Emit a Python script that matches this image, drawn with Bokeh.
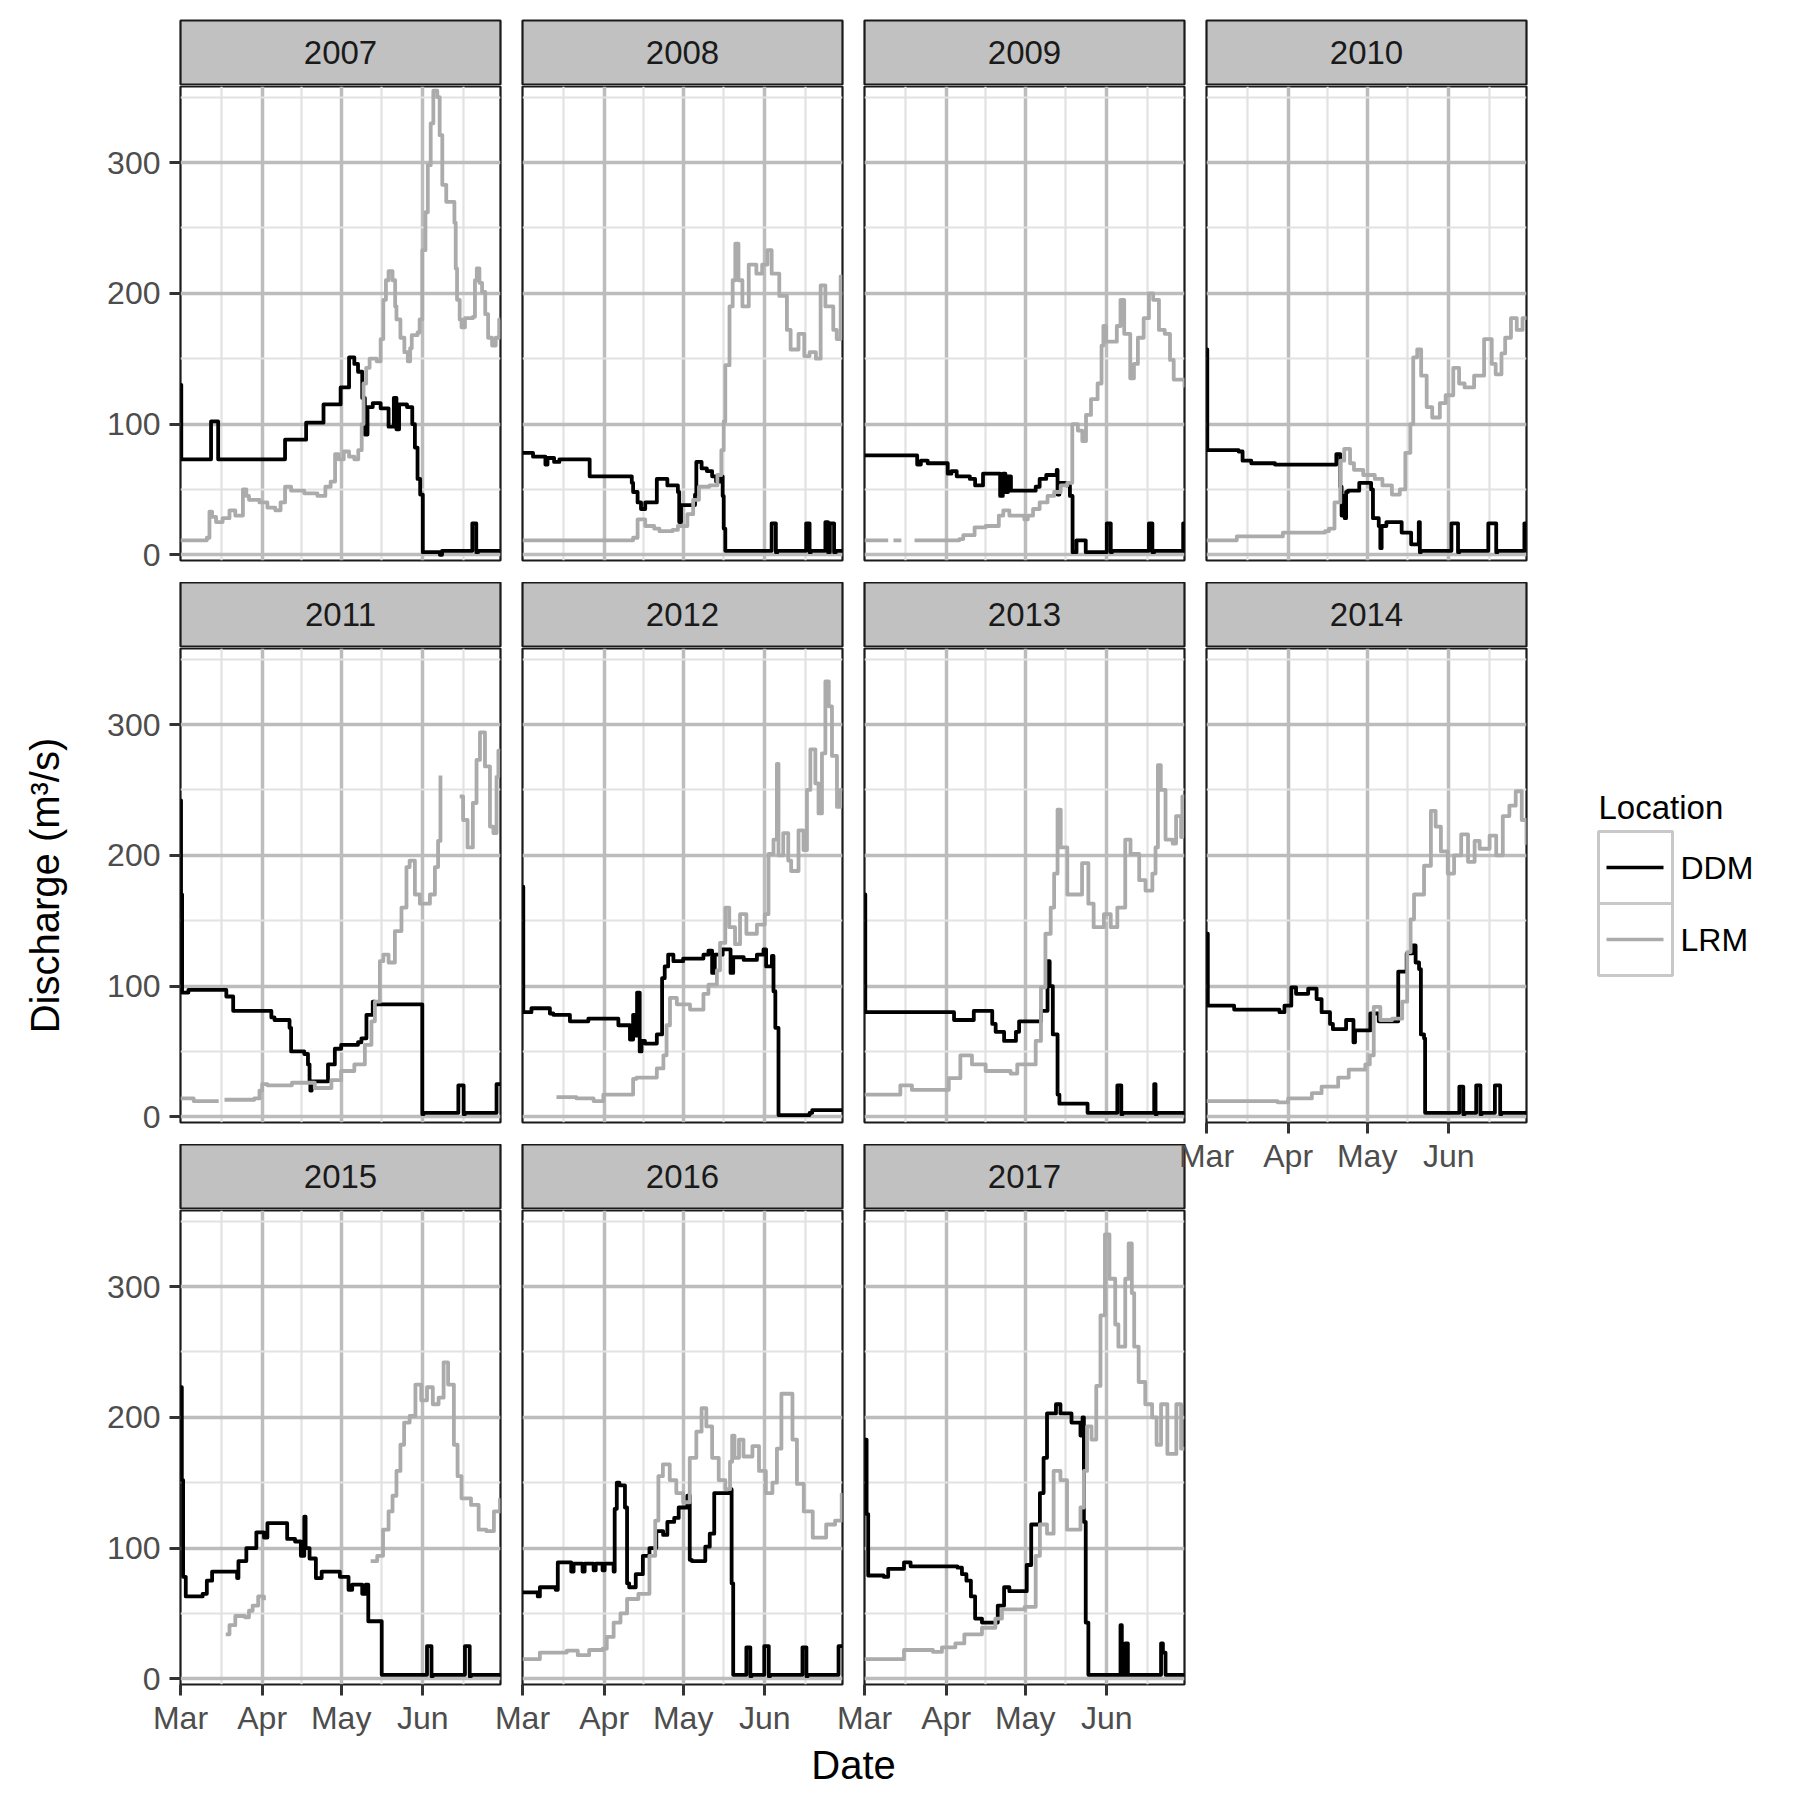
from bokeh.plotting import figure
from bokeh.layouts import row, column
from bokeh.models import Range1d, FixedTicker, ColumnDataSource
from bokeh.embed import file_html
from bokeh.resources import INLINE
from bokeh.core.properties import value

# ---------------- data (day = days since 1 March, q = discharge m3/s) ----------------
YEARS = [2007, 2008, 2009, 2010, 2011, 2012, 2013, 2014, 2015, 2016, 2017]
LOCATIONS = ["DDM", "LRM"]
MONTH_TICKS = [0, 31, 61, 92]
MONTH_LABELS = ["Mar", "Apr", "May", "Jun"]
MONTH_MINOR = [15.5, 46, 76.5, 107.5]
Q_TICKS = [0, 100, 200, 300]
Q_MINOR = [50, 150, 250, 350]

DDM_2007 = [(0,130),(0.3,73),(11.6,102),(14.3,73),(39.7,88),(47.7,101),(54.3,115),(60.8,128),(64,151),(66,146),(67.4,140),(69,120),(70,92),(71,113),(73,116),(76,112),(79,98),(81,120),(82,96),(83,115),(86,113),(88,100),(89,82),(90,58),(91,46),(92,2),(98.5,0),(99.3,3),(110.8,24),(112.3,2),(113,3),(121.5,3)]
LRM_2007 = [(0,11),(10,13),(11,33),(12,29),(13.5,25),(16,28),(18.6,34),(20.8,30),(23.7,50),(25,45),(26,42),(30,40),(33,36),(36,34),(38,40),(39.7,52),(42,49),(47,47),(52,45),(55,52),(57,56),(58.7,77),(60,73),(62,79),(64,75),(66,73),(67.5,80),(68.8,100),(69.5,131),(70.5,143),(71.8,150),(74.5,148),(76,165),(77,195),(78,210),(79,217),(80.5,210),(81.5,190),(82,180),(83.5,166),(85,155),(86.3,148),(87.2,158),(87.8,168),(90,170),(90.8,180),(91.8,233),(93,262),(93.9,298),(95,330),(96,355),(97.5,350),(98.4,321),(99.4,283),(100.9,270),(103,270),(104,254),(104.5,219),(105,195),(106,180),(106.7,174),(108,181),(111,182),(111.8,210),(112.5,219),(113.5,208),(114.5,201),(115.7,184),(116.8,166),(118.3,160),(119.7,166),(121,180),(121.5,180)]

DDM_2008 = [(0,78),(4,75),(8.7,69),(9.5,74),(12,71),(14,73),(25.5,60),(41.5,55),(42,48),(43.7,40),(45,35),(46.6,40),(51,58),(55,53),(59,48),(59.5,25),(60.2,38),(65.5,46),(66,71),(68,66),(70,64),(72,60),(73.5,56),(75,60),(76,45),(76.4,20),(77,3),(94.6,24),(96.2,2),(96.8,3),(107.7,24),(109,2),(109.5,3),(115,25),(116,2),(116.7,24),(118.3,2),(119,3),(121.5,3)]
LRM_2008 = [(0,11),(42,13),(43.7,27),(46.6,22),(50,20),(52,18),(57,19),(59,22),(62.6,31),(64.8,42),(67,52),(71,53),(74,61),(75.5,80),(76.4,102),(77,145),(78.6,190),(79.8,210),(80.8,238),(82,210),(83.5,190),(85.9,222),(88.8,215),(91,222),(93,233),(94.6,215),(97.5,198),(100.4,172),(101.8,157),(104.8,169),(107,152),(109,155),(111.4,150),(113.2,206),(115,190),(118,172),(119.3,165),(120.8,213),(121.5,213)]

DDM_2009 = [(0,76),(20,69),(21.4,72),(24,70),(31.6,62),(33,64),(35,60),(40,58),(42,53),(45,62),(50.5,62),(51.5,45),(52.5,62),(53.5,48),(54.5,60),(55.6,49),(65,52),(66.5,58),(69,61),(73,65),(73.3,46),(74,55),(76.7,53),(78,45),(79,2),(80.5,11),(84,2),(92,24),(93.5,2),(94,3),(108,24),(109.3,2),(110,3),(121,24),(121.5,24)]
LRM_2009 = [(0,11),(9,11),None,(11,11),(14,11),None,(19,11),(36,12),(37.5,15),(41.8,21),(46,22),(51,30),(52.7,34),(55,30),(60.7,27),(62,30),(64,35),(66.5,40),(69.5,45),(72,48),(74.5,53),(77,55),(78.9,100),(81,95),(82.7,87),(84.1,107),(86,119),(88.5,131),(90,160),(90.7,175),(91.7,163),(94.3,163),(95.8,175),(97.2,195),(98.6,169),(100.9,135),(102.3,146),(103.8,166),(106,181),(108,200),(109.6,195),(111.8,172),(114,169),(116,149),(117.4,134),(119.8,134),(121.5,128)]

DDM_2010 = [(0,157),(0.3,80),(12.2,79),(13.7,72),(17,70),(26,69),(49.3,77),(50.8,52),(51.3,30),(52,45),(52.5,28),(53,48),(53.7,49),(58,55),(61.7,55),(62.5,50),(63.2,28),(65.4,22),(66,5),(66.5,22),(68.3,25),(73.4,25),(74.1,17),(76.3,17),(77.7,8),(80.6,25),(81,2),(81.4,3),(93,24),(95.5,2),(96,3),(107,24),(110,2),(110.5,3),(120.7,24),(121.5,24)]
LRM_2010 = [(0,11),(11.5,14),(23,14),(29,17),(45,18),(46.5,20),(48.6,40),(50.8,72),(52.3,81),(54.5,70),(56,65),(59.5,61),(63.9,58),(66.8,53),(70.4,46),(73.4,50),(75.5,78),(77.4,100),(78.5,151),(80,157),(81.5,137),(83.6,113),(85.7,105),(88.6,116),(90.8,122),(93.7,143),(95.9,131),(98,128),(101.6,137),(103.8,137),(105.4,165),(108.3,146),(109.8,138),(112,154),(113.4,166),(115.6,181),(117.8,172),(120,181),(121.5,180)]

DDM_2011 = [(0,242),(0.2,170),(0.6,95),(3,97),(17.4,92),(20,81),(34.5,76),(35.7,74),(41.4,68),(42,50),(47,48),(48.4,40),(49,27),(49.3,20),(49.8,27),(55,27),(56,40),(58.6,52),(61,55),(67.4,57),(68.7,60),(70.6,78),(73,88),(73.8,86),(91.5,86),(91.8,2),(92.3,3),(105.5,24),(107.5,2),(108,3),(120,25),(121.5,25)]
LRM_2011 = [(0,14),(5,12),(14.5,12),None,(16.7,13),(28,14),(30,20),(31,25),(33,24),(41,24),(42.3,26),(48,26),(51,22),(53.5,22),(57.3,28),(61,35),(66,40),(70,55),(72.5,73),(73.8,88),(75.7,119),(77,124),(79,118),(81.4,142),(83.9,160),(85.8,191),(87,196),(89,170),(90.9,163),(94.7,170),(96.6,191),(97.8,211),(98.7,261),None,(106,245),(107.3,227),(109,206),(111,240),(112.4,273),(113.7,294),(115.6,268),(117.5,222),(118.8,217),(120,260),(120.7,280),(121.5,280)]

DDM_2012 = [(0,176),(0.3,80),(3.4,83),(10.4,79),(11.7,78),(18,73),(25,75),(35.7,75),(36.4,70),(40.8,59),(42,78),(42.5,62),(43.5,95),(44.5,50),(45.2,58),(46.5,56),(51,63),(53,106),(54,115),(55.3,124),(57.3,119),(61,121),(68.7,124),(70.6,127),(72,110),(73,124),(76,128),(79,110),(80,122),(84,120),(89,124),(91.5,128),(92.5,115),(94.7,123),(95.3,96),(96,68),(97.2,1.3),(109,3),(110,5),(121.5,5)]
LRM_2012 = [(12.9,15),(20.5,14),(27,12),(30.7,17),(40.8,17),(42,29),(43.3,30),(48.4,30),(51,37),(53.5,47),(54.7,70),(56,91),(58.6,86),(63.6,82),(67.4,82),(68.7,94),(70.6,101),(72.5,101),(73.8,112),(75,133),(77,160),(78.5,145),(80.7,132),(82.6,155),(85,140),(89,147),(92,155),(93.4,201),(95.3,212),(96.6,270),(97.2,200),(99,217),(100.9,196),(102,188),(104.8,219),(106.7,204),(108,250),(109.3,281),(111.2,255),(112.4,232),(113.7,278),(115,333),(116.3,314),(117.5,276),(119.4,237),(120.7,250),(121.5,250)]

DDM_2013 = [(0,170),(0.3,80),(32,80),(34,74),(41,74),(41.5,81),(46.6,81),(48.5,71),(49.8,65),(52,65),(53,58),(56,58),(57.5,65),(58.7,73),(65,73),(67,81),(69.5,119),(70.3,100),(71.5,63),(73.3,17),(74,10),(84.6,10),(84.7,3),(96,24),(97.5,2),(98,3),(110,25),(110.5,2),(111,3),(121.5,3)]
LRM_2013 = [(0,17),(13,17),(13.6,24),(18,20.5),(29.4,20.5),(32,29.5),(36.4,47),(40.8,40),(46,35),(53.5,35),(55.5,33),(58,40),(62.5,40),(65,58),(67,99),(68.7,140),(70.7,160),(72,186),(73.3,235),(74.5,206),(77,170),(79,170),(82.6,194),(85,163),(87,145),(90.9,155),(93.5,145),(96,160),(99,212),(101,201),(104.3,181),(106.7,173),(109.3,186),(110.5,206),(111.4,269),(112.5,250),(114.3,212),(117,209),(118.3,230),(120.2,214),(120.7,245),(121.5,245)]

DDM_2014 = [(0,140),(0.5,85),(10.5,82),(27.7,80),(29.6,85),(32.2,99),(34,94),(36.4,94),(38.6,98),(40.5,98),(41.8,90),(43.7,80),(45,80),(46.9,71),(48,67),(51.3,67),(53,74),(55.8,57),(56.4,66),(61,66),(62.2,79),(64,79),(65.4,73),(71,73),(72.8,111),(74.3,111),(76,125),(78.2,131),(79.4,118),(80.7,113),(81.4,63),(82.6,60),(83,3),(96,23),(97.5,2),(98,3),(102.4,24),(104,2),(104.5,3),(109.5,24),(111.5,2),(112,3),(121.5,3)]
LRM_2014 = [(0,12),(20.7,12),(27,11),(31,14),(36,14),(40,18),(43.7,23),(47.5,23),(50,30),(54,36),(57.7,36),(60.3,40),(62,47),(63.5,84),(66,74),(70.5,75),(73,75),(74.3,88),(76.2,126),(77.5,151),(78.8,170),(81.4,170),(82.6,192),(85.2,234),(87,222),(89,203),(91.6,186),(94,200),(96.7,216),(99.3,195),(101.8,211),(103.7,205),(107.5,215),(110,200),(112.5,230),(115,238),(117.4,249),(119.7,227),(121.5,208)]

DDM_2015 = [(0,223),(0.5,152),(1,78),(2,63),(8.4,65),(10,75),(12,82),(14.3,82),(21.5,77),(22,90),(25,100),(28.8,112),(31.7,108),(33,119),(39.7,119),(40.5,107),(43.5,105),(45.7,94),(47,124),(47.5,100),(49,92),(51.4,77),(53.6,82),(59.4,82),(60.5,78),(63.8,68),(65.2,72),(69,65),(70.3,72),(71.3,44),(76.2,44),(76.4,3),(93.6,25),(95.3,2),(95.8,3),(108,25),(109.8,2),(110.3,3),(121.5,3)]
LRM_2015 = [(17.2,34),(18.6,41),(20.8,48),(24.5,47),(26,52),(27.4,56),(29.5,63),(31.7,60),None,(72.2,90),(74.7,94),(76.9,114),(79,128),(80.5,140),(82,159),(83.5,179),(84.9,196),(87,201),(89.2,225),(91.4,213),(93.6,223),(95.8,210),(98,215),(99.9,242),(101.6,225),(103.8,179),(105.2,155),(106.7,138),(110.3,133),(113.2,114),(116.1,113),(119,128),(121.3,138)]

DDM_2016 = [(0,66),(5.8,63),(6.6,70),(12.6,68),(13.4,89),(18.5,82),(19.4,88),(22.8,82),(23.6,88),(27,83),(27.8,88),(30.4,83),(31.2,88),(34.6,82),(35,130),(35.8,150),(36.8,148),(38.9,131),(39.7,73),(40.5,70),(43,80),(45.7,94),(48.2,100),(50.8,113),(53.4,110),(55,120),(57.6,123),(59.3,131),(62.6,140),(63.5,91),(64.3,90),(69.4,101),(71.1,111),(72.8,142),(78.8,143),(79.3,145),(79.4,73),(80,3),(85,24),(86.5,2),(87,3),(91.8,25),(93.5,2),(94,3),(106.3,24),(107.8,2),(108.3,3),(120,25),(121.5,25)]
LRM_2016 = [(0,15),(6.6,20),(12.6,20),(16.8,21.5),(21,18),(25.3,22),(30.4,23),(32,32),(34.6,43),(37.2,50),(39.7,61),(44,65),(48.2,94),(50.4,121),(51.6,155),(53.3,164),(55.9,152),(58.4,142),(61,135),(63.5,169),(66,189),(68,207),(69.8,193),(72,169),(74.5,152),(77,145),(78.8,166),(79.6,186),(80.5,169),(82.2,183),(83.9,170),(87.3,178),(89.8,159),(92.4,142),(94.9,150),(96.6,176),(98.3,218),(100.9,218),(102.5,183),(104.2,149),(106.8,128),(110.2,108),(112.8,108),(115.3,118),(118.7,121),(121.2,142)]

DDM_2017 = [(0,183),(0.8,126),(1.4,79),(7.3,78),(9,84),(13.2,84),(15,89),(17.5,86),(31,86),(35.3,85),(37,80),(38.7,75),(40.4,63),(42,46),(43.8,46),(44.6,43),(49,43),(50.6,56),(53,70),(55,67),(60,67),(61.6,87),(63.3,118),(66.6,142),(68,169),(69.3,203),(71.8,203),(72.7,210),(74.4,203),(78.6,196),(82,186),(82.8,200),(83.3,120),(84,43),(85,3),(97.2,41),(97.7,3),(99,27),(100,3),(112.6,27),(113.3,20),(114.3,3),(121.5,3)]
LRM_2017 = [(0,15),(13.2,15),(15,22),(21,22),(26,20.5),(29.4,24),(34.5,27),(37.9,34),(44.6,39),(49.7,46),(52.2,53),(60.8,55),(63.3,55),(65,94),(66.6,118),(69.3,111),(71.8,159),(74.4,152),(76.9,114),(80.3,114),(82,131),(83.3,159),(84.5,193),(86.2,183),(88,224),(89.6,278),(91.3,340),(93,306),(95.2,271),(96.4,254),(99,306),(100.3,333),(101.5,295),(102.4,254),(104.1,227),(106.6,210),(109.2,200),(110.9,179),(112.6,210),(115,172),(118.4,210),(120.2,176),(121.5,176)]

SERIES = {
    2007: (DDM_2007, LRM_2007), 2008: (DDM_2008, LRM_2008), 2009: (DDM_2009, LRM_2009),
    2010: (DDM_2010, LRM_2010), 2011: (DDM_2011, LRM_2011), 2012: (DDM_2012, LRM_2012),
    2013: (DDM_2013, LRM_2013), 2014: (DDM_2014, LRM_2014), 2015: (DDM_2015, LRM_2015),
    2016: (DDM_2016, LRM_2016), 2017: (DDM_2017, LRM_2017),
}

# ---------------- style / layout ----------------
FONT = "Liberation Sans"
LOC_COLORS = ["#000000", "#ABABAB"]
LINE_W = 3.8
FRAME_W, FRAME_H, STRIP_H = 320, 474, 64
LEFT_MARGIN = 180
RIGHT_PAD = 2
COL_BORDER = 50      # left border of columns 2..4 (overlaps previous column)
COL_SHIFT = 30       # negative margin so that the visible gap is 22 px
NCOL = 4
X_RANGE = (0, 121.5)
Y_RANGE = (-4.4, 358.2)
GRID_MAJOR = "#BCBCBC"
GRID_MINOR = "#E2E2E2"
BORDER = "#1A1A1A"


def segments(pairs):
    segs, cur = [], []
    for pt in pairs:
        if pt is None:
            if cur:
                segs.append(cur)
            cur = []
        else:
            cur.append(pt)
    if cur:
        segs.append(cur)
    return segs


def make_strip(year, col, r):
    s = figure(frame_width=FRAME_W, frame_height=STRIP_H,
               x_range=Range1d(0, 1), y_range=Range1d(0, 1),
               x_axis_location=None, y_axis_location=None,
               toolbar_location=None, output_backend="svg",
               min_border_left=LEFT_MARGIN if col == 0 else COL_BORDER,
               min_border_right=RIGHT_PAD, min_border_top=20 if r == 0 else 0,
               min_border_bottom=1,
               background_fill_color="#C1C1C1", border_fill_color=None,
               outline_line_color=BORDER, outline_line_width=2.2)
    s.grid.visible = False
    s.text(x=[0.5], y=[0.5], text=[str(year)], text_align="center",
           text_baseline="middle", text_font=value(FONT),
           text_font_size="33px", text_color="#1A1A1A")
    return s


def make_panel(idx, year):
    col, r = idx % NCOL, idx // NCOL
    has_x = idx + NCOL >= len(YEARS)
    has_y = col == 0
    p = figure(frame_width=FRAME_W, frame_height=FRAME_H,
               x_range=Range1d(*X_RANGE), y_range=Range1d(*Y_RANGE),
               x_axis_location="below" if has_x else None,
               y_axis_location="left" if has_y else None,
               toolbar_location=None, output_backend="svg",
               min_border_left=LEFT_MARGIN if col == 0 else COL_BORDER,
               min_border_right=RIGHT_PAD, min_border_top=1,
               min_border_bottom=55 if has_x else 22,
               background_fill_color="white", border_fill_color=None,
               outline_line_color=BORDER, outline_line_width=2.2)
    p.xgrid.ticker = FixedTicker(ticks=MONTH_TICKS, minor_ticks=MONTH_MINOR)
    p.ygrid.ticker = FixedTicker(ticks=Q_TICKS, minor_ticks=Q_MINOR)
    p.grid.grid_line_color = GRID_MAJOR
    p.grid.grid_line_width = 3.5
    p.grid.minor_grid_line_color = GRID_MINOR
    p.grid.minor_grid_line_width = 2.2

    for ax in list(p.xaxis) + list(p.yaxis):
        ax.axis_line_color = None
        ax.major_tick_in = 0
        ax.major_tick_out = 11
        ax.minor_tick_out = 0
        ax.minor_tick_in = 0
        ax.major_tick_line_color = "#333333"
        ax.major_tick_line_width = 3
        ax.major_label_text_font = FONT
        ax.major_label_text_font_size = "32px"
        ax.major_label_text_color = "#4D4D4D"
        ax.axis_label_text_font = FONT
        ax.axis_label_text_font_size = "40px"
        ax.axis_label_text_font_style = "normal"
        ax.axis_label_text_color = "#000000"
    p.xaxis.ticker = FixedTicker(ticks=MONTH_TICKS, minor_ticks=[])
    p.xaxis.major_label_overrides = dict(zip(MONTH_TICKS, MONTH_LABELS))
    p.xaxis.major_label_standoff = 4
    p.yaxis.ticker = FixedTicker(ticks=Q_TICKS, minor_ticks=[])
    p.yaxis.major_label_standoff = 9
    if has_y and r == 1:
        p.yaxis.axis_label = "Discharge (m\u00b3/s)"
        p.yaxis.axis_label_standoff = 37

    for series, color in zip(SERIES[year], LOC_COLORS):
        for seg in segments(series):
            src = ColumnDataSource(dict(day=[d for d, _ in seg], q=[v for _, v in seg]))
            p.step("day", "q", source=src, mode="after", line_color=color,
                   line_width=LINE_W, line_join="round")
    return p


columns = [[] for _ in range(NCOL)]
for i, yr in enumerate(YEARS):
    c, r = i % NCOL, i // NCOL
    columns[c].append(make_strip(yr, c, r))
    columns[c].append(make_panel(i, yr))

col_layouts = []
for c, kids in enumerate(columns):
    if c == 0:
        col_layouts.append(column(*kids, spacing=0))
    else:
        col_layouts.append(column(*kids, spacing=0, margin=(0, 0, 0, -COL_SHIFT)))

# ---------------- legend (separate panel at right) ----------------
LEG_W, LEG_H = 268, 1000
KEY_X, KEY_W, KEY_H = 70, 74, 72
KEY_TOP = 831
TITLE_MID = 807
leg = figure(frame_width=LEG_W, frame_height=LEG_H,
             x_range=Range1d(0, LEG_W), y_range=Range1d(LEG_H, 0),
             x_axis_location=None, y_axis_location=None,
             toolbar_location=None, output_backend="svg",
             min_border_left=0, min_border_right=0, min_border_top=0, min_border_bottom=0,
             outline_line_color=None, background_fill_color=None, border_fill_color=None)
leg.grid.visible = False
tops = [KEY_TOP + k * KEY_H for k in range(len(LOCATIONS))]
mids = [t + KEY_H / 2 for t in tops]
leg.quad(left=[KEY_X] * 2, right=[KEY_X + KEY_W] * 2, top=tops,
         bottom=[t + KEY_H for t in tops], fill_color="white",
         line_color="#C8C8C8", line_width=3)
leg.segment(x0=[KEY_X + 8] * 2, x1=[KEY_X + KEY_W - 9] * 2, y0=mids, y1=mids,
            line_color=LOC_COLORS, line_width=3.5)
leg.text(x=[KEY_X + KEY_W + 8] * 2, y=mids, text=LOCATIONS, text_align="left",
         text_baseline="middle", text_font=value(FONT), text_font_size="32px",
         text_color="#000000")
leg.text(x=[KEY_X], y=[TITLE_MID], text=["Location"], text_align="left",
         text_baseline="middle", text_font=value(FONT), text_font_size="33px",
         text_color="#000000")

# ---------------- shared x title ----------------
PANELS_W = NCOL * FRAME_W + (NCOL - 1) * 22
date_fig = figure(frame_width=PANELS_W, frame_height=50,
                  x_range=Range1d(0, 1), y_range=Range1d(0, 1),
                  x_axis_location=None, y_axis_location=None,
                  toolbar_location=None, output_backend="svg",
                  min_border_left=LEFT_MARGIN, min_border_right=0,
                  min_border_top=0, min_border_bottom=0,
                  outline_line_color=None, border_fill_color=None)
date_fig.grid.visible = False
date_fig.text(x=[0.5], y=[0.5], text=["Date"], text_align="center",
              text_baseline="middle", text_font=value(FONT), text_font_size="40px",
              text_color="#000000")

layout = column(row(*col_layouts, leg, spacing=0), date_fig, spacing=0)

with open("out.html", "w") as f:
    f.write(file_html(layout, INLINE, title="Discharge"))
